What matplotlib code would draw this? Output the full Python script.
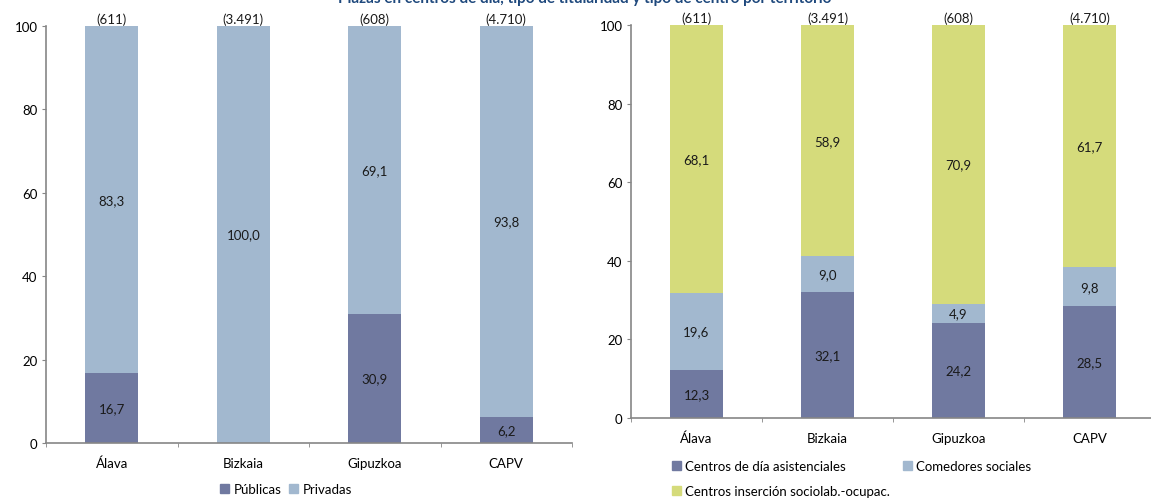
import matplotlib.pyplot as plt
import matplotlib.ticker as ticker
from matplotlib.patches import Patch
import numpy as np

plt.rcParams['font.family'] = ['Lato', 'DejaVu Sans']

# Data
territories = ['Álava', 'Bizkaia', 'Gipuzkoa', 'CAPV']
totals = ['(611)', '(3.491)', '(608)', '(4.710)']

publicas = [16.7, 0.0, 30.9, 6.2]
privadas = [83.3, 100.0, 69.1, 93.8]

dia_asistenciales = [12.3, 32.1, 24.2, 28.5]
comedores = [19.6, 9.0, 4.9, 9.8]
insercion = [68.1, 58.9, 70.9, 61.7]

title = 'Plazas en centros de día, tipo de titularidad y tipo de centro por territorio'

# Style
c_dark = '#7079A0'
c_light = '#A2B8CF'
c_green = '#D5DB7B'
spine_c = '#868686'
fs = 9.5

W, H = 1151, 502
fig = plt.figure(figsize=(W / 100, H / 100), dpi=100)


def px_axes(x0, x1, y0, y1):
    # pixel box (top-down y) -> figure axes
    return fig.add_axes([x0 / W, 1 - y1 / H, (x1 - x0) / W, (y1 - y0) / H])


def style_axis(ax):
    ax.set_xlim(-0.5, 3.5)
    ax.set_ylim(0, 100)
    ax.spines['top'].set_visible(False)
    ax.spines['right'].set_visible(False)
    for s in ('left', 'bottom'):
        ax.spines[s].set_color(spine_c)
        ax.spines[s].set_linewidth(1.2)
    ax.yaxis.set_major_locator(ticker.MultipleLocator(20))
    ax.tick_params(axis='y', direction='out', length=3, color=spine_c,
                   labelsize=fs, pad=3)
    ax.set_xticks(range(len(territories)))
    ax.set_xticklabels(territories)
    ax.set_xticks(np.arange(-0.5, 4, 1.0), minor=True)
    ax.tick_params(axis='x', which='major', length=0, labelsize=fs, pad=10)
    ax.tick_params(axis='x', which='minor', direction='out', length=3,
                   color=spine_c)


def fmt(v):
    return f'{v:.1f}'.replace('.', ',')


def stack(ax, series, colors, width=0.4):
    x = np.arange(len(territories))
    bottom = np.zeros(len(territories))
    for vals, col in zip(series, colors):
        vals = np.array(vals)
        ax.bar(x, vals, width, bottom=bottom, color=col, linewidth=0)
        for xi, b, v in zip(x, bottom, vals):
            if v > 0:
                ax.text(xi, b + v / 2, fmt(v), ha='center', va='center',
                        fontsize=fs, color='#1a1a1a')
        bottom = bottom + vals
    for xi, t in zip(x, totals):
        ax.annotate(t, (xi, 100), xytext=(0, 0.5), textcoords='offset points',
                    ha='center', va='bottom', fontsize=fs, color='#1a1a1a')


# Left chart: titularidad
ax1 = px_axes(46, 572, 27, 444)
style_axis(ax1)
stack(ax1, [publicas, privadas], [c_dark, c_light])

# Right chart: tipo de centro
ax2 = px_axes(631, 1155, 26, 419)
style_axis(ax2)
stack(ax2, [dia_asistenciales, comedores, insercion], [c_dark, c_light, c_green])

# Legends
leg1 = fig.legend(handles=[Patch(color=c_dark, label='Públicas'),
                           Patch(color=c_light, label='Privadas')],
                  loc='center', bbox_to_anchor=(286 / W, 1 - 490 / H),
                  ncol=2, frameon=False, fontsize=fs, handlelength=0.7,
                  handleheight=0.7, handletextpad=0.3, columnspacing=0.6)

h_dia = Patch(color=c_dark, label='Centros de día asistenciales')
h_com = Patch(color=c_light, label='Comedores sociales')
h_ins = Patch(color=c_green, label='Centros inserción sociolab.-ocupac.')
leg2 = fig.legend(handles=[h_dia, h_ins, h_com],
                  loc='upper left', bbox_to_anchor=(660 / W, 1 - 449 / H),
                  ncol=2, frameon=False, fontsize=fs, handlelength=0.7,
                  handleheight=0.7, handletextpad=0.3, columnspacing=1.0,
                  labelspacing=1.0)

# Title (cut off at the top of the image, as in the source)
fig.text(585 / W, 1 - 3 / H, title, ha='center', va='baseline',
         fontsize=11, fontweight='bold', color='#1F497D')

fig.savefig('out.png', dpi=100)
